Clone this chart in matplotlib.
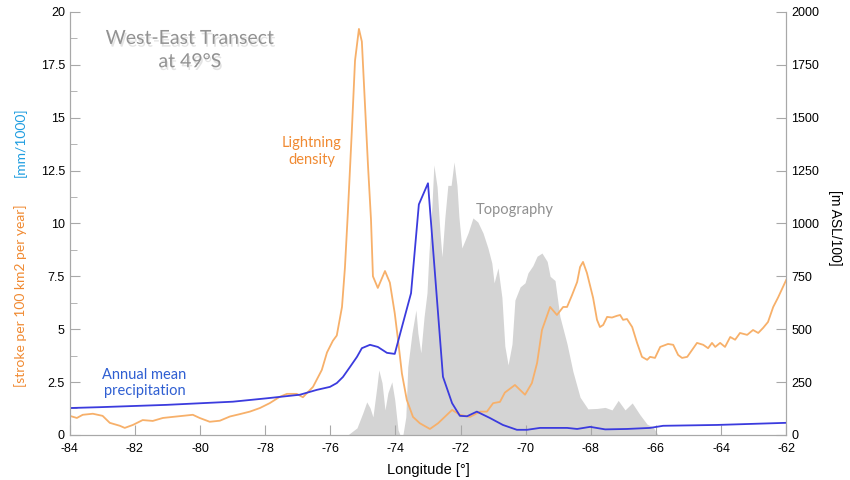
import matplotlib.pyplot as plt
import matplotlib.patheffects as pe
import numpy as np

# lightning density [stroke per 100 km2 per year]
lightning_lon = [-84.00, -83.78, -83.60, -83.29, -82.99, -82.77, -82.46, -82.31, -82.06, -81.76,
                 -81.45, -81.14, -80.84, -80.53, -80.22, -80.01, -79.70, -79.39, -79.08, -78.78,
                 -78.47, -78.16, -77.86, -77.55, -77.33, -77.03, -76.84, -76.53, -76.26, -76.10,
                 -75.92, -75.80, -75.64, -75.55, -75.46, -75.34, -75.24, -75.12, -75.03, -74.94,
                 -74.84, -74.75, -74.69, -74.54, -74.32, -74.17, -74.02, -73.92, -73.80, -73.65,
                 -73.46, -73.25, -72.94, -72.69, -72.26, -72.02, -71.71, -71.40, -71.19, -71.00,
                 -70.79, -70.64, -70.33, -70.02, -69.81, -69.65, -69.50, -69.25, -69.04, -68.85,
                 -68.73, -68.58, -68.42, -68.33, -68.24, -68.12, -67.93, -67.81, -67.72, -67.62,
                 -67.50, -67.35, -67.20, -67.10, -67.01, -66.89, -66.73, -66.58, -66.43, -66.27,
                 -66.18, -66.03, -65.87, -65.63, -65.47, -65.32, -65.20, -65.04, -64.89, -64.74,
                 -64.55, -64.40, -64.28, -64.18, -64.03, -63.88, -63.72, -63.57, -63.42, -63.20,
                 -63.02, -62.86, -62.71, -62.56, -62.40, -62.25, -62.10, -62.00]
lightning = [0.90, 0.80, 0.95, 1.00, 0.90, 0.57, 0.43, 0.33, 0.47, 0.70,
             0.66, 0.80, 0.85, 0.90, 0.95, 0.80, 0.62, 0.67, 0.87, 0.98,
             1.10, 1.27, 1.50, 1.80, 1.94, 1.94, 1.78, 2.27, 3.07, 3.90,
             4.45, 4.70, 6.05, 7.90, 10.5, 14.3, 17.7, 19.2, 18.6, 15.8,
             12.7, 10.2, 7.50, 6.95, 7.75, 7.20, 5.75, 4.50, 2.90, 1.65,
             0.85, 0.55, 0.28, 0.55, 1.18, 0.95, 0.85, 1.10, 1.10, 1.50,
             1.56, 2.00, 2.36, 1.90, 2.45, 3.40, 4.96, 6.05, 5.67, 6.05,
             6.05, 6.60, 7.23, 7.94, 8.18, 7.66, 6.48, 5.44, 5.10, 5.20,
             5.58, 5.55, 5.63, 5.67, 5.44, 5.48, 5.10, 4.35, 3.69, 3.55,
             3.69, 3.64, 4.16, 4.30, 4.26, 3.78, 3.64, 3.69, 4.02, 4.35,
             4.26, 4.10, 4.35, 4.16, 4.35, 4.16, 4.63, 4.50, 4.82, 4.73,
             4.96, 4.82, 5.06, 5.34, 6.05, 6.50, 7.00, 7.33]

# annual mean precipitation [mm/1000]
precip_lon = [-84.00, -83.08, -81.02, -78.99, -77.95, -76.93, -76.41, -76.01, -75.80, -75.61,
              -75.40, -75.18, -75.03, -74.78, -74.54, -74.26, -74.02, -73.80, -73.52, -73.28,
              -73.00, -72.54, -72.26, -72.02, -71.80, -71.50, -71.10, -70.70, -70.27, -69.96,
              -69.56, -68.73, -68.42, -68.02, -67.56, -66.89, -66.18, -65.78, -64.12, -62.00]
precip = [1.27, 1.31, 1.42, 1.57, 1.73, 1.90, 2.13, 2.27, 2.45, 2.74,
          3.20, 3.69, 4.10, 4.26, 4.16, 3.88, 3.83, 5.10, 6.70, 10.9,
          11.9, 2.75, 1.50, 0.90, 0.88, 1.10, 0.80, 0.47, 0.24, 0.24,
          0.33, 0.33, 0.28, 0.38, 0.26, 0.28, 0.33, 0.43, 0.47, 0.57]

# topography [m ASL/100]
topo_lon = [-75.46, -75.18, -75.00, -74.88, -74.78, -74.69, -74.57, -74.51, -74.41, -74.32,
            -74.23, -74.11, -74.02, -73.92, -73.86, -73.77, -73.68, -73.62, -73.49, -73.37,
            -73.31, -73.22, -73.12, -73.03, -72.97, -72.88, -72.82, -72.72, -72.63, -72.57,
            -72.48, -72.39, -72.29, -72.20, -72.11, -72.05, -71.96, -71.77, -71.62, -71.47,
            -71.31, -71.16, -71.04, -70.97, -70.85, -70.73, -70.64, -70.54, -70.42, -70.33,
            -70.17, -70.02, -69.93, -69.78, -69.65, -69.50, -69.34, -69.25, -69.10, -68.95,
            -68.73, -68.55, -68.33, -68.09, -67.81, -67.56, -67.35, -67.16, -66.95, -66.73,
            -66.49, -66.27, -66.09, -65.94]
topo = [0, 33, 104, 156, 128, 85, 227, 307, 246, 118,
        199, 251, 165, 24, 0, 0, 85, 322, 482, 591,
        482, 388, 558, 671, 860, 1078, 1277, 1173, 955, 842,
        1031, 1180, 1180, 1291, 1180, 1031, 884, 955, 1026, 1007,
        955, 884, 813, 719, 790, 650, 420, 331, 430, 638,
        700, 719, 766, 800, 845, 860, 820, 750, 730, 560,
        430, 300, 178, 123, 125, 130, 118, 163, 118, 151,
        95, 50, 38, 0]

xticks = np.arange(-84, -61, 2)
left_ticks = np.arange(0, 20.1, 2.5)
right_ticks = np.arange(0, 2001, 250)

orange_line = "#f7b06a"
orange_text = "#f08a32"
blue_line = "#3b3bde"
blue_text = "#2f5fd2"
grey_spine = "#a8a8a8"

fig = plt.figure(figsize=(8.5, 4.8), dpi=100)
ax = fig.add_axes([0.082, 0.094, 0.843, 0.881])
ax2 = ax.twinx()
ax.set_zorder(ax2.get_zorder() + 1)
ax.patch.set_visible(False)

ax2.fill_between(topo_lon, topo, 0, color="#d4d4d4", linewidth=0)
ax.plot(lightning_lon, lightning, color=orange_line, linewidth=1.3)
ax.plot(precip_lon, precip, color=blue_line, linewidth=1.3)

ax.set_xlim(-84, -62)
ax.set_ylim(0, 20)
ax2.set_ylim(0, 2000)

ax.set_xticks(xticks)
ax.set_xticklabels([str(v) for v in xticks])
ax.set_yticks(left_ticks)
ax.set_yticklabels([f"{v:g}" for v in left_ticks])
ax.set_yticks(np.arange(1.25, 20, 2.5), minor=True)
ax2.set_yticks(right_ticks)
ax2.set_yticklabels([str(v) for v in right_ticks])

for a in (ax, ax2):
    a.spines["top"].set_visible(False)
    for s in ("left", "right", "bottom"):
        a.spines[s].set_color(grey_spine)
    a.tick_params(which="both", direction="in", color=grey_spine, labelsize=9)
    a.tick_params(which="major", length=7)
    a.tick_params(which="minor", length=5)
    for lab in a.get_xticklabels() + a.get_yticklabels():
        lab.set_family("Liberation Sans")
ax.tick_params(axis="x", pad=5.5)

ax.set_xlabel("Longitude [°]", fontsize=10.5, family="Liberation Sans", labelpad=6)

fig.text(0.982, 0.525, "[m ASL/100]", rotation=270, ha="center", va="center",
         fontsize=10, family="Liberation Sans")
fig.text(0.024, 0.383, "[stroke per 100 km2 per year]", rotation=90, ha="center", va="center",
         fontsize=10, family="Lato", color=orange_text)
fig.text(0.024, 0.704, "[mm/1000]", rotation=90, ha="center", va="center",
         fontsize=10, family="Lato", color="#1e9de0")

ax.text(-80.31, 18.2, "West-East Transect\nat 49°S", ha="center", va="center",
        fontsize=14, family="Lato", color="#929292", linespacing=1.45,
        path_effects=[pe.SimplePatchShadow(offset=(1, -2), shadow_rgbFace="#777777", alpha=0.2),
                      pe.Normal()])
ax.text(-76.57, 13.4, "Lightning\ndensity", ha="center", va="center",
        fontsize=10.5, family="Lato", color=orange_text)
ax.text(-70.33, 10.64, "Topography", ha="center", va="center",
        fontsize=10.5, family="Lato", color="#909090")
ax.text(-81.7, 2.46, "Annual mean\nprecipitation", ha="center", va="center",
        fontsize=10.5, family="Lato", color=blue_text)

fig.savefig("out.png", dpi=100)
plt.close(fig)
